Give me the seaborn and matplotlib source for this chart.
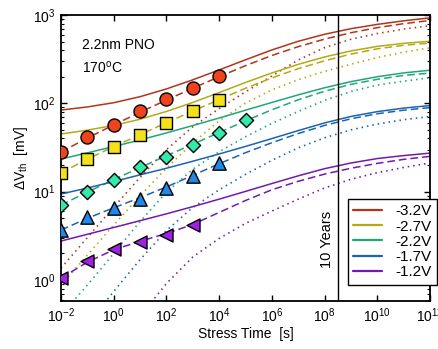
import matplotlib
matplotlib.use("Agg")
import matplotlib.pyplot as plt
import seaborn as sns
from matplotlib.ticker import FixedLocator, LogLocator, NullLocator, NullFormatter

# ---------------- data ----------------
voltages = ["-3.2V", "-2.7V", "-2.2V", "-1.7V", "-1.2V"]

t_model = [1e-2, 1e-1, 1e0, 1e1, 1e2, 1e3, 1e4, 1e5, 1e6, 1e7, 1e8, 1e9, 1e10, 1e11, 1e12]

solid_32 = [83.9, 91.0, 101.6, 118.9, 145.5, 184.5, 238.8, 311, 402, 504, 605, 700, 783, 859, 929]
solid_27 = [44.9, 49.7, 56.2, 66.1, 80.9, 102.3, 132.4, 172.2, 220.8, 276, 335, 392, 441, 478, 504]
solid_22 = [23.4, 27.5, 32.4, 38.5, 46.2, 56.0, 68.2, 83.6, 102.3, 124.7, 150, 176, 200, 221, 237]
solid_17 = [9.40, 11.0, 13.0, 15.5, 18.4, 22.1, 26.7, 32.5, 39.9, 49.1, 60.0, 71.0, 80.5, 88.3, 94.4]
solid_12 = [2.76, 3.29, 3.93, 4.69, 5.61, 6.76, 8.22, 10.07, 12.36, 15.1, 18.2, 21.1, 23.7, 25.6, 27.3]

dashed_32 = [28.1, 40.5, 56.9, 79.3, 108.9, 148.3, 200, 267, 348, 438, 533, 630, 719, 798, 867]
dashed_27 = [16.3, 23.4, 32.3, 44.2, 60.3, 81.8, 110, 148, 194, 247, 303, 361, 414, 454, 481]
dashed_22 = [7.05, 9.89, 13.7, 18.7, 25.5, 34.4, 46.7, 63.4, 84.5, 109.6, 137, 164, 187, 207, 220]
dashed_17 = [3.67, 5.00, 6.56, 8.55, 11.3, 15.3, 20.7, 27.6, 35.8, 45.5, 56.2, 66.8, 76.2, 83.6, 89.5]
dashed_12 = [1.05, 1.59, 2.20, 2.74, 3.36, 4.25, 5.82, 7.94, 10.5, 13.1, 15.8, 18.4, 20.9, 23.2, 25.1]

dotted_32 = [1.36, 3.02, 6.68, 14.5, 29.9, 54.3, 87.1, 135, 204, 309, 427, 531, 617, 692, 759]
dotted_27 = [0.875, 1.91, 4.19, 8.95, 18.5, 35.6, 63.4, 100.5, 142, 185, 230, 277, 330, 380, 425]
dotted_22 = [0.40, 0.875, 2.0, 4.59, 9.82, 17.9, 28.3, 41.9, 59.2, 80.9, 108, 136, 161, 178, 195]
dotted_17 = [0.141, 0.316, 0.741, 1.70, 3.63, 6.61, 10.5, 15.7, 22.6, 31.3, 40.7, 50.1, 58.2, 65.3, 70.8]
dotted_12 = [0.0282, 0.0676, 0.162, 0.389, 0.912, 1.82, 2.95, 4.37, 6.03, 8.22, 11.0, 13.8, 16.4, 18.8, 21.1]

t_meas_32 = [1e-2, 1e-1, 1e0, 1e1, 1e2, 1e3, 1e4]
meas_32 = [28.1, 41.5, 56.8, 81.8, 112, 149, 204]
t_meas_27 = [1e-2, 1e-1, 1e0, 1e1, 1e2, 1e3, 1e4]
meas_27 = [16.3, 23.4, 32.0, 43.8, 59.8, 81.8, 109]
t_meas_22 = [1e-2, 1e-1, 1e0, 1e1, 1e2, 1e3, 1e4, 1e5]
meas_22 = [7.05, 9.89, 13.5, 19.0, 24.7, 33.7, 46.1, 64.7]
t_meas_17 = [1e-2, 1e-1, 1e0, 1e1, 1e2, 1e3, 1e4]
meas_17 = [3.67, 5.15, 6.52, 8.25, 11.0, 15.0, 21.1]
t_meas_12 = [1e-2, 1e-1, 1e0, 1e1, 1e2, 1e3]
meas_12 = [1.05, 1.64, 2.24, 2.69, 3.22, 4.19]

ten_years = 3.15e8
x_ticks = [1e-2, 1e0, 1e2, 1e4, 1e6, 1e8, 1e10, 1e12]

# ---------------- style ----------------
line_colors = ["#B3341A", "#B3AA14", "#1EA878", "#1A64B0", "#7419B0"]
marker_colors = ["#F0421C", "#F5E11A", "#33EBA8", "#2288E6", "#A020E8"]
marker_shapes = ["o", "s", "D", "^", "<"]
marker_sizes = [88, 80, 52, 92, 88]

sns.set_theme(style="ticks", rc={
    "axes.edgecolor": "black", "axes.labelcolor": "black",
    "xtick.color": "black", "ytick.color": "black", "text.color": "black",
    "axes.linewidth": 1.3,
})
plt.rcParams['font.family'] = ['Liberation Sans', 'DejaVu Sans']
plt.rcParams['mathtext.fontset'] = 'custom'
plt.rcParams['mathtext.rm'] = 'Liberation Sans'
plt.rcParams['mathtext.it'] = 'Liberation Sans:italic'
plt.rcParams['mathtext.bf'] = 'Liberation Sans:bold'

fig = plt.figure(figsize=(4.38, 3.49), dpi=100)
ax = fig.add_axes([61 / 438, 1 - 301 / 349, (430 - 61) / 438, (301 - 15) / 349])
ax.set_xscale("log")
ax.set_yscale("log")

solids = [solid_32, solid_27, solid_22, solid_17, solid_12]
dasheds = [dashed_32, dashed_27, dashed_22, dashed_17, dashed_12]
dotteds = [dotted_32, dotted_27, dotted_22, dotted_17, dotted_12]
meas_t = [t_meas_32, t_meas_27, t_meas_22, t_meas_17, t_meas_12]
meas_v = [meas_32, meas_27, meas_22, meas_17, meas_12]

for i, v in enumerate(voltages):
    c = line_colors[i]
    sns.lineplot(x=t_model, y=solids[i], ax=ax, color=c, lw=1.1, label=v,
                 estimator=None, sort=False, legend=False)
    sns.lineplot(x=t_model, y=dasheds[i], ax=ax, color=c, lw=1.1,
                 linestyle=(0, (5, 2.6)), estimator=None, sort=False, legend=False)
    sns.lineplot(x=t_model, y=dotteds[i], ax=ax, color=c, lw=1.2,
                 linestyle=(0, (0.9, 2.4)), estimator=None, sort=False, legend=False)

for i in range(len(voltages)):
    sns.scatterplot(x=meas_t[i], y=meas_v[i], ax=ax, marker=marker_shapes[i],
                    s=marker_sizes[i], color=marker_colors[i], edgecolor="black",
                    linewidth=1.0, zorder=5, legend=False)

ax.axvline(ten_years, color="black", lw=1.0, zorder=3)

ax.set_xlim(1e-2, 1e12)
ax.set_ylim(0.578, 1000)

ax.xaxis.set_major_locator(FixedLocator(x_ticks))
ax.xaxis.set_minor_locator(NullLocator())
ax.yaxis.set_major_locator(LogLocator(base=10, numticks=10))
ax.yaxis.set_minor_locator(LogLocator(base=10, subs=range(2, 10), numticks=30))
ax.yaxis.set_minor_formatter(NullFormatter())
ax.tick_params(which="both", direction="in", top=True, right=True, labelsize=10, pad=4)
ax.tick_params(which="major", length=4.5, width=1.0)
ax.tick_params(which="minor", length=2.5, width=0.8)

ax.set_xlabel("Stress Time  [s]", fontsize=10, labelpad=1)
ax.set_ylabel("ΔV$_{\\mathrm{th}}$  [mV]", fontsize=10, labelpad=2)

ax.text(0.057, 0.881, "2.2nm PNO", transform=ax.transAxes, fontsize=10, va="baseline", ha="left")
ax.text(0.057, 0.800, "170$^{\\mathrm{o}}$C", transform=ax.transAxes, fontsize=10, va="baseline", ha="left")
ax.text(0.721, 0.217, "10 Years", transform=ax.transAxes, fontsize=10.5, rotation=90,
        ha="center", va="center")

handles, labels = ax.get_legend_handles_labels()
sel = [(h, l) for h, l in zip(handles, labels) if l in voltages]
leg = fig.legend([h for h, l in sel], [l for h, l in sel], loc="upper left",
                 bbox_to_anchor=(347.5 / 438, 1 - 199 / 349), bbox_transform=fig.transFigure,
                 borderaxespad=0, fontsize=11, frameon=True, fancybox=False,
                 edgecolor="black", framealpha=1, handlelength=1.9, handletextpad=0.9,
                 labelspacing=0.08, borderpad=0.35)
leg.get_frame().set_linewidth(1.0)
for line in leg.get_lines():
    line.set_linewidth(1.6)

fig.savefig("out.png", dpi=100)
